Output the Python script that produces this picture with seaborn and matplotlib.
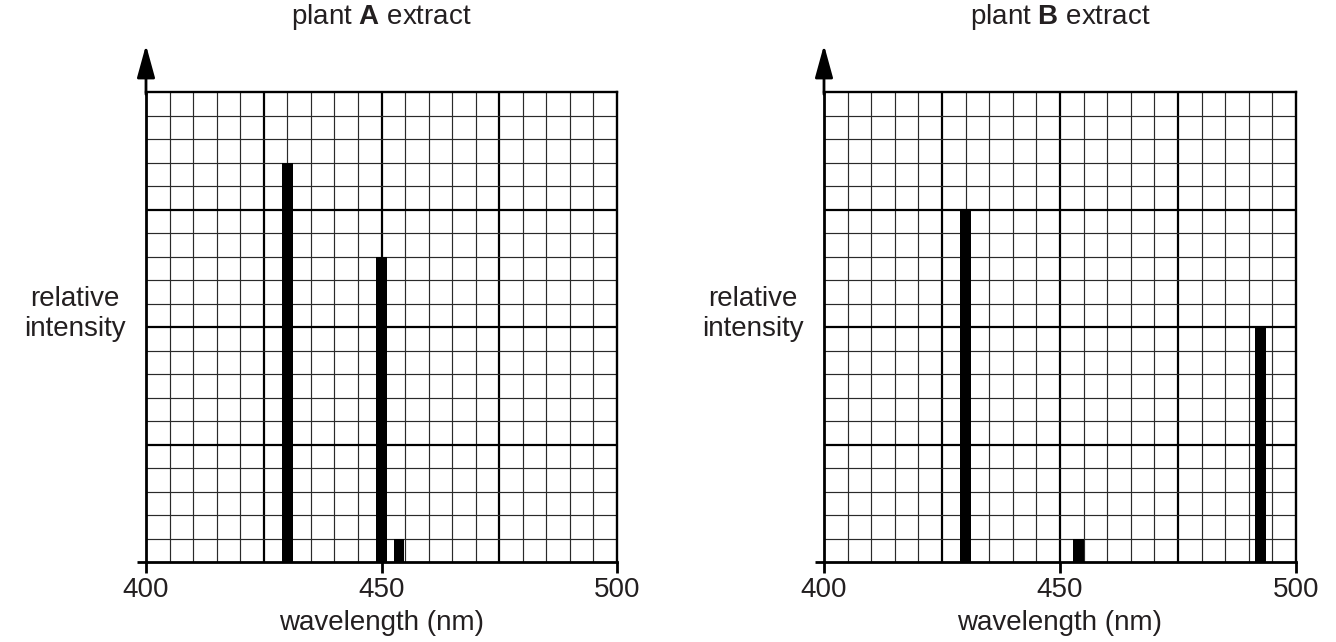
import numpy as np
import pandas as pd
import matplotlib
matplotlib.use("Agg")
import matplotlib.pyplot as plt
import seaborn as sns

# Absorption lines of the two plant extracts
wavelength_a = [430, 450, 453.7]
intensity_a = [17, 13, 1]
wavelength_b = [430, 453.9, 492.5]
intensity_b = [15, 1, 10]

panel_titles = [r"plant $\mathbf{A}$ extract", r"plant $\mathbf{B}$ extract"]
x_tick_values = [400, 450, 500]
x_tick_labels = ["400", "450", "500"]
x_label = "wavelength (nm)"
y_label = "relative\nintensity"

X_MIN, X_MAX, Y_MIN, Y_MAX = 400, 500, 0, 20
BAR_WIDTH_NM = 2.3
TEXT_COLOR = "#231f20"

sns.set_theme(style="white")
plt.rcParams["font.family"] = ["Liberation Sans", "DejaVu Sans"]
plt.rcParams["mathtext.fontset"] = "custom"
plt.rcParams["mathtext.rm"] = "Liberation Sans"
plt.rcParams["mathtext.bf"] = "Liberation Sans:bold"
plt.rcParams["text.color"] = TEXT_COLOR
plt.rcParams["xtick.color"] = "black"
plt.rcParams["xtick.labelcolor"] = TEXT_COLOR
plt.rcParams["axes.labelcolor"] = TEXT_COLOR

fig = plt.figure(figsize=(13.36, 6.42), dpi=100)
W, H = 1336, 642
boxes = [(146, 617), (824, 1296)]
top_px, bottom_px = 92, 562

datasets = [(wavelength_a, intensity_a), (wavelength_b, intensity_b)]

for (left_px, right_px), (wl, inten), title in zip(boxes, datasets, panel_titles):
    ax = fig.add_axes([left_px / W, 1 - bottom_px / H,
                       (right_px - left_px) / W, (bottom_px - top_px) / H])
    df = pd.DataFrame({"wavelength": wl, "intensity": inten})
    spacing = np.min(np.diff(np.sort(df["wavelength"].unique())))
    sns.barplot(data=df, x="wavelength", y="intensity", native_scale=True,
                width=BAR_WIDTH_NM / spacing, color="black", saturation=1,
                errorbar=None, edgecolor="none", linewidth=0, ax=ax, zorder=3)

    # graph-paper grid: fine lines every 5 nm / 1 unit, heavy every 25 nm / 5 units
    for xv in np.arange(X_MIN + 5, X_MAX, 5):
        major = (xv - X_MIN) % 25 == 0
        ax.axvline(xv, color="black" if major else "#2a2a2a",
                   lw=1.6 if major else 0.85, zorder=1)
    for yv in np.arange(Y_MIN + 1, Y_MAX, 1):
        major = yv % 5 == 0
        ax.axhline(yv, color="black" if major else "#2a2a2a",
                   lw=1.6 if major else 0.85, zorder=1)

    ax.set_xlim(X_MIN, X_MAX)
    ax.set_ylim(Y_MIN, Y_MAX)
    ax.set_xticks(x_tick_values)
    ax.set_xticklabels(x_tick_labels, fontsize=20)
    ax.set_yticks([])
    ax.tick_params(axis="x", direction="out", length=8, width=2, pad=3,
                   bottom=True)
    for side in ["left", "right", "top", "bottom"]:
        ax.spines[side].set_visible(True)
        ax.spines[side].set_color("black")
        ax.spines[side].set_linewidth(1.7)
    ax.spines["left"].set_linewidth(2.0)
    ax.spines["bottom"].set_linewidth(2.0)

    # x axis runs a little past the y axis on the left
    ax.plot([-9 / (right_px - left_px), 0], [0, 0], transform=ax.transAxes,
            color="black", lw=2.0, clip_on=False, solid_capstyle="butt")

    # arrow on the intensity axis
    ax.annotate("", xy=(0, 1.0 + 47 / (bottom_px - top_px)), xytext=(0, 0.995),
                xycoords="axes fraction",
                arrowprops=dict(arrowstyle="-|>,head_length=2.0,head_width=0.55",
                                color="black", lw=2.0, shrinkA=0, shrinkB=0,
                                mutation_scale=10))

    ax.set_xlabel(x_label, fontsize=20, labelpad=5)
    ax.set_ylabel(y_label, fontsize=20, rotation=0, ha="center", va="center",
                  linespacing=1.2)
    ax.yaxis.set_label_coords(-71 / (right_px - left_px), (562 - 314) / 470)
    ax.set_title(title, fontsize=20, y=1.0 + 75 / 470, pad=0, va="center")

fig.savefig("out.png", dpi=100)
